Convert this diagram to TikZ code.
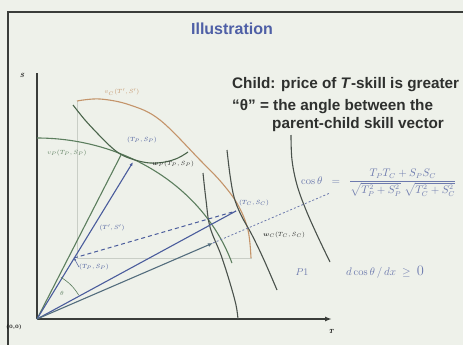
\documentclass[tikz,border=0pt]{standalone}
\usepackage{amsmath}
\usepackage{fontspec}
\setsansfont{Liberation Sans}
\usetikzlibrary{arrows.meta}
\definecolor{bg}{HTML}{EEF1EA}
\definecolor{framec}{HTML}{3A3D3A}
\definecolor{titleblue}{HTML}{4E5FA6}
\definecolor{txt}{HTML}{2E302E}
\definecolor{gcurve}{HTML}{5C7E5E}
\definecolor{dcurve}{HTML}{4A524C}
\definecolor{bline}{HTML}{4A5C9C}
\definecolor{orng}{HTML}{C4946A}
\definecolor{formc}{HTML}{6D7AAE}
\definecolor{faint}{HTML}{C9CEC6}
\begin{document}
\begin{tikzpicture}[x=1pt,y=-1pt,
  axis/.style={draw=framec,line width=1.6pt},
  curve/.style={line width=1.1pt},
  lbl/.style={font=\fontsize{6.5}{7}\selectfont,inner sep=0pt},
  body/.style={font=\sffamily\bfseries\fontsize{15.3}{17}\selectfont,text=txt,inner sep=0pt,anchor=west},
  formula/.style={text=formc,inner sep=0pt}]
\clip (0,0) rectangle (463,345);
\fill[bg] (0,0) rectangle (463,345);
\draw[framec,line width=1.6pt] (8,12) rectangle (480,360);
\node[font=\sffamily\bfseries\fontsize{16}{18}\selectfont,text=titleblue,inner sep=0pt] (title) at (232,29) {Illustration};
\node[body] (l1) at (232,85) {Child: price of \textit{T}-skill is greater};
\node[body] (l2) at (232,107) {“θ” = the angle between the};
\node[body] (l3) at (272,125) {parent-child skill vector};
% coordinates
\coordinate (O) at (37,319);
\coordinate (Stop) at (37,73);
\coordinate (Tend) at (332,319);
\coordinate (tp) at (121,155);
\coordinate (wp) at (133,162);
\coordinate (tc) at (236,211);
\coordinate (tpl) at (74,258);
\coordinate (ar) at (213,243);
\coordinate (dotend) at (330,193);
\coordinate (fa) at (77,101);
\coordinate (fb) at (77,258);
\coordinate (fc) at (252,258);
% faint guide lines
\draw[faint,line width=0.6pt] (fa) -- (fb) -- (fc);
% axes
\draw[axis] (O) -- (Stop);
\draw[axis,-{Latex[length=7pt,width=5pt]}] (O) -- (Tend);
\node[lbl,font=\bfseries\itshape\fontsize{6}{7}\selectfont] (Slab) at (22,75) {S};
\node[lbl,font=\bfseries\itshape\fontsize{6}{7}\selectfont] (Tlab) at (331,331) {T};
\node[lbl,font=\bfseries\fontsize{5}{6}\selectfont] (olab) at (14,327) {(0,0)};
% curves
\draw[gcurve,curve] plot[domain=18:90,samples=80] ({37+205*cos(\x)},{319-181*sin(\x)});
\draw[orng,curve] plot[smooth,tension=0.6] coordinates {(77,101) (100,99) (130,105) (160,120) (200,160) (222,183) (238,205) (248,230) (251,258)};
\draw[gcurve!80!black,curve] plot[smooth,tension=0.6] coordinates {(73,105) (85,120) (98,134) (110,146) (121,154.5) (135,160) (150,163) (165,162) (178,158) (188,152)};
\draw[dcurve,curve] plot[smooth,tension=0.6] coordinates {(203,173) (206,200) (210,227) (221,255) (230,283) (236,305) (238,319)};
\draw[dcurve,curve] plot[smooth,tension=0.6] coordinates {(227,150) (230,175) (234,197) (241,215) (252,235) (264,260) (277,290)};
\draw[dcurve,curve] plot[smooth,tension=0.6] coordinates {(291,135) (292,160) (297,185) (306,210) (318,237) (330,262)};
% vectors
\draw[gcurve,line width=1.1pt] (O) -- (tp);
\draw[bline,line width=1.1pt,-{Latex[length=4pt,width=3pt]}] (O) -- (wp);
\draw[bline,line width=1.1pt] (O) -- (tc);
\draw[bline,line width=1pt,dash pattern=on 4pt off 3pt] (tpl) -- (tc);
\draw[gcurve!50!bline,line width=1.1pt,-{Latex[length=5pt,width=4pt]}] (O) -- (ar);
\draw[formc,line width=0.8pt,dash pattern=on 2pt off 2pt] (ar) -- (dotend);
% angle arc
\draw[gcurve,line width=0.6pt] plot[domain=30:60,samples=20] ({37+48*cos(\x)},{319-48*sin(\x)});
\node[lbl,text=gcurve] (th) at (62,293) {$\theta$};
% labels
\node[lbl,text=orng] (vc) at (122,92) {$v_C(T',S')$};
\node[lbl,text=bline] (tpsp) at (142,140) {$(T_P,S_P)$};
\node[lbl,text=txt] (wpl) at (173,164) {$\boldsymbol{w}_P(T_P,S_P)$};
\node[lbl,text=gcurve] (vpl) at (67,153) {$v_P(T_P,S_P)$};
\node[lbl,text=bline] (tsl) at (112,228) {$(T',S')$};
\node[lbl,text=bline] (tpll) at (94,267) {$(T_P,S_P)$};
\draw[bline,line width=0.5pt,-{Latex[length=2.5pt,width=2pt]}] (tpll.west) -- (tpl);
\node[lbl,text=bline] (tcl) at (254,203) {$(T_C,S_C)$};
\node[lbl,text=txt] (wcl) at (284,235) {$\boldsymbol{w}_C(T_C,S_C)$};
% formula
\node[formula,anchor=west,font=\fontsize{10.5}{12}\selectfont] (form) at (301,183) {$\cos\theta\;\;=\;\;\dfrac{T_PT_C+S_PS_C}{\sqrt{T_P^2+S_P^2}\;\sqrt{T_C^2+S_C^2}}$};
\node[formula,font=\fontsize{10}{11}\selectfont] (p1) at (302,272) {$P1$};
\node[formula,font=\fontsize{10.5}{12}\selectfont,anchor=west] (dc) at (346,272) {$d\cos\theta\,/\,dx \;\geq\; \text{\Large 0}$};
\end{tikzpicture}
\end{document}
